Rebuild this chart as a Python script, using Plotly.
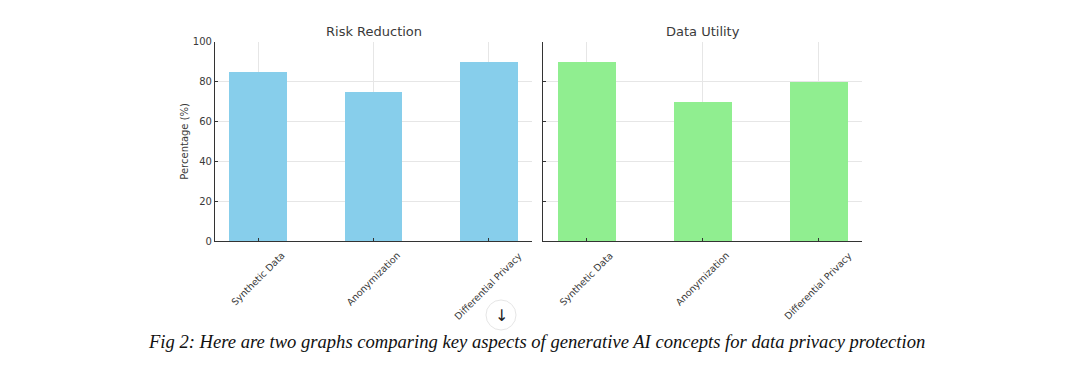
import plotly.graph_objects as go
from plotly.subplots import make_subplots

categories = ["Synthetic Data", "Anonymization", "Differential Privacy"]
risk_reduction = [85, 75, 90]
data_utility = [90, 70, 80]
y_ticks = [0, 20, 40, 60, 80, 100]
titles = ["Risk Reduction", "Data Utility"]
caption = "Fig 2: Here are two graphs comparing key aspects of generative AI concepts for data privacy protection"

W, H = 1080, 375
OFF = 8  # page body margin


def px(x):
    return (x - OFF) / W


def py(y):
    return (H - (y - OFF)) / H


fig = make_subplots(rows=1, cols=2, shared_yaxes=False)
fig.add_trace(go.Bar(x=categories, y=risk_reduction, marker=dict(color="#87CEEB", line=dict(width=0)),
                     width=0.5, showlegend=False), row=1, col=1)
fig.add_trace(go.Bar(x=categories, y=data_utility, marker=dict(color="#90EE90", line=dict(width=0)),
                     width=0.5, showlegend=False), row=1, col=2)

TXT = "#3a3a3a"
axis_common = dict(showline=True, linecolor="#333", linewidth=1.2, ticks="inside", ticklen=3,
                   tickcolor="#333", showgrid=True, gridcolor="#e6e6e6", gridwidth=1, automargin=False,
                   tickfont=dict(family="DejaVu Sans", size=10, color=TXT), zeroline=False)
fig.update_layout(
    xaxis=dict(domain=[px(215), px(532)], range=[-0.375, 2.375], showticklabels=False, **axis_common),
    xaxis2=dict(domain=[px(543), px(862)], range=[-0.375, 2.375], showticklabels=False, **axis_common),
    yaxis=dict(domain=[py(241), py(41.7)], range=[0, 100], tickvals=y_ticks,
               title=dict(text="Percentage (%)", font=dict(family="DejaVu Sans", size=10, color=TXT), standoff=2),
               **axis_common),
    yaxis2=dict(domain=[py(241), py(41.7)], range=[0, 100], tickvals=y_ticks, showticklabels=False, anchor="x2",
                **axis_common),
    width=W, height=H, margin=dict(l=0, r=0, t=0, b=0),
    plot_bgcolor="white", paper_bgcolor="white", bargap=0,
)
# rotated category labels, centred under each tick (matplotlib style)
for xr in ["x", "x2"]:
    for c in categories:
        fig.add_annotation(text=c, x=c, xref=xr, y=py(241), yref="paper", yshift=-6, showarrow=False,
                           textangle=-45, xanchor="center", yanchor="top",
                           font=dict(family="DejaVu Sans", size=9.5, color=TXT))
for i, t in enumerate(titles):
    cx = px((215 + 532) / 2) if i == 0 else px((543 + 862) / 2)
    fig.add_annotation(text=t, x=cx, y=py(31), xref="paper", yref="paper", showarrow=False,
                       font=dict(family="DejaVu Sans", size=13, color=TXT), xanchor="center", yanchor="middle")
fig.add_annotation(text="<i>" + caption + "</i>", x=px(536), y=py(341), xref="paper", yref="paper",
                   showarrow=False, font=dict(family="Liberation Serif", size=18.6, color="#111"),
                   xanchor="center", yanchor="middle")
# scroll-down overlay icon
fig.add_shape(type="circle", xref="paper", yref="paper", x0=px(486), x1=px(516), y0=py(330), y1=py(300),
              line=dict(color="#e6e6e6", width=1), fillcolor="rgba(255,255,255,0.9)")
fig.add_annotation(text="↓", x=px(501), y=py(315), xref="paper", yref="paper", showarrow=False,
                   font=dict(family="DejaVu Sans", size=16, color="#222"), xanchor="center", yanchor="middle")
fig.write_html("out.html")
